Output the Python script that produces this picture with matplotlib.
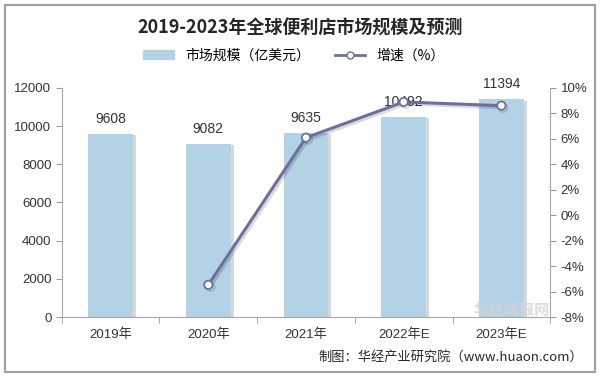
import matplotlib
matplotlib.use('Agg')
import matplotlib.pyplot as plt
import matplotlib.patheffects as pe
from matplotlib.patches import Rectangle
from matplotlib.lines import Line2D
from matplotlib.ticker import FuncFormatter

plt.rcParams['font.family'] = ['Liberation Sans', 'Noto Sans CJK SC', 'DejaVu Sans']

years = ['2019年', '2020年', '2021年', '2022年E', '2023年E']
market = [9608, 9082, 9635, 10492, 11394]   # 亿美元
growth = [None, -5.47, 6.09, 8.89, 8.60]     # %

bar_color = '#b3d2e5'
line_color = '#6a6f9f'

fig = plt.figure(figsize=(6, 3.77), dpi=100)
ax = fig.add_axes([0.103, 0.159, 0.814, 0.608])
ax2 = ax.twinx()

x = list(range(len(years)))
ax.bar(x, market, width=0.46, color=bar_color, zorder=2,
       path_effects=[pe.SimplePatchShadow(offset=(2, -1), alpha=0.2), pe.Normal()])
for xi, v in zip(x, market):
    ax.text(xi, v + 420, str(v), ha='center', va='bottom', fontsize=10, color='#333333', zorder=5)

gx = [xi for xi, g in zip(x, growth) if g is not None]
gy = [g for g in growth if g is not None]
ax2.plot(gx, gy, color=line_color, lw=2.2, marker='o', ms=6, mfc='white', mec=line_color,
         mew=1.3, zorder=4,
         path_effects=[pe.SimpleLineShadow(offset=(1.5, -1.5), alpha=0.15), pe.Normal()])

ax.set_ylim(0, 12000)
ax.set_yticks(range(0, 12001, 2000))
ax.set_xlim(-0.5, 4.5)
ax2.set_ylim(-8, 10)
ax2.set_yticks(range(-8, 11, 2))
ax2.yaxis.set_major_formatter(FuncFormatter(lambda v, p: f'{int(v)}%'))

ax.set_xticks(x)
ax.set_xticklabels(years, fontsize=9.5, color='#333333')
ax.set_xticks([i + 0.5 for i in range(-1, 5)], minor=True)
ax.tick_params(axis='x', which='major', length=0, pad=8)
ax.tick_params(axis='x', which='minor', length=4, color='#999999')
ax.tick_params(axis='y', labelsize=9.5, labelcolor='#333333', length=4, color='#999999')
ax2.tick_params(axis='y', labelsize=9.5, labelcolor='#333333', length=4, color='#999999')

for a in (ax, ax2):
    a.spines['top'].set_visible(False)
    for s in ('left', 'right', 'bottom'):
        a.spines[s].set_color('#a6a6a6')
ax.spines['right'].set_visible(False)
ax2.spines['left'].set_visible(False)
ax2.spines['bottom'].set_visible(False)

fig.text(0.5, 0.925, '2019-2023年全球便利店市场规模及预测', ha='center', va='center',
         fontsize=13, fontweight='bold', color='#262626', family=['Noto Sans CJK SC'])

handles = [Rectangle((0, 0), 1, 1, color=bar_color),
           Line2D([0], [0], color=line_color, lw=2, marker='o', ms=5, mfc='white', mec=line_color)]
fig.legend(handles, ['市场规模（亿美元）', '增速（%）'], loc='center', bbox_to_anchor=(0.49, 0.853),
           ncol=2, frameon=False, handlelength=2.2, columnspacing=1.8,
           prop={'family': ['Noto Sans CJK SC'], 'size': 10})

# watermark
fig.text(0.79, 0.165, '华经情报网', fontsize=11, fontweight='bold', color='#d4d4d4',
         alpha=0.8, family=['Noto Sans CJK SC'], zorder=0)

fig.text(0.972, 0.052, '制图：华经产业研究院（www.huaon.com）', ha='right', va='center',
         fontsize=9.5, color='#262626', family=['Noto Sans CJK SC', 'DejaVu Sans'])

fig.patches.append(Rectangle((0.008, 0.012), 0.984, 0.976, transform=fig.transFigure,
                             fill=False, edgecolor='#a0a0a0', lw=1.5))

fig.savefig('out.png', dpi=100)
